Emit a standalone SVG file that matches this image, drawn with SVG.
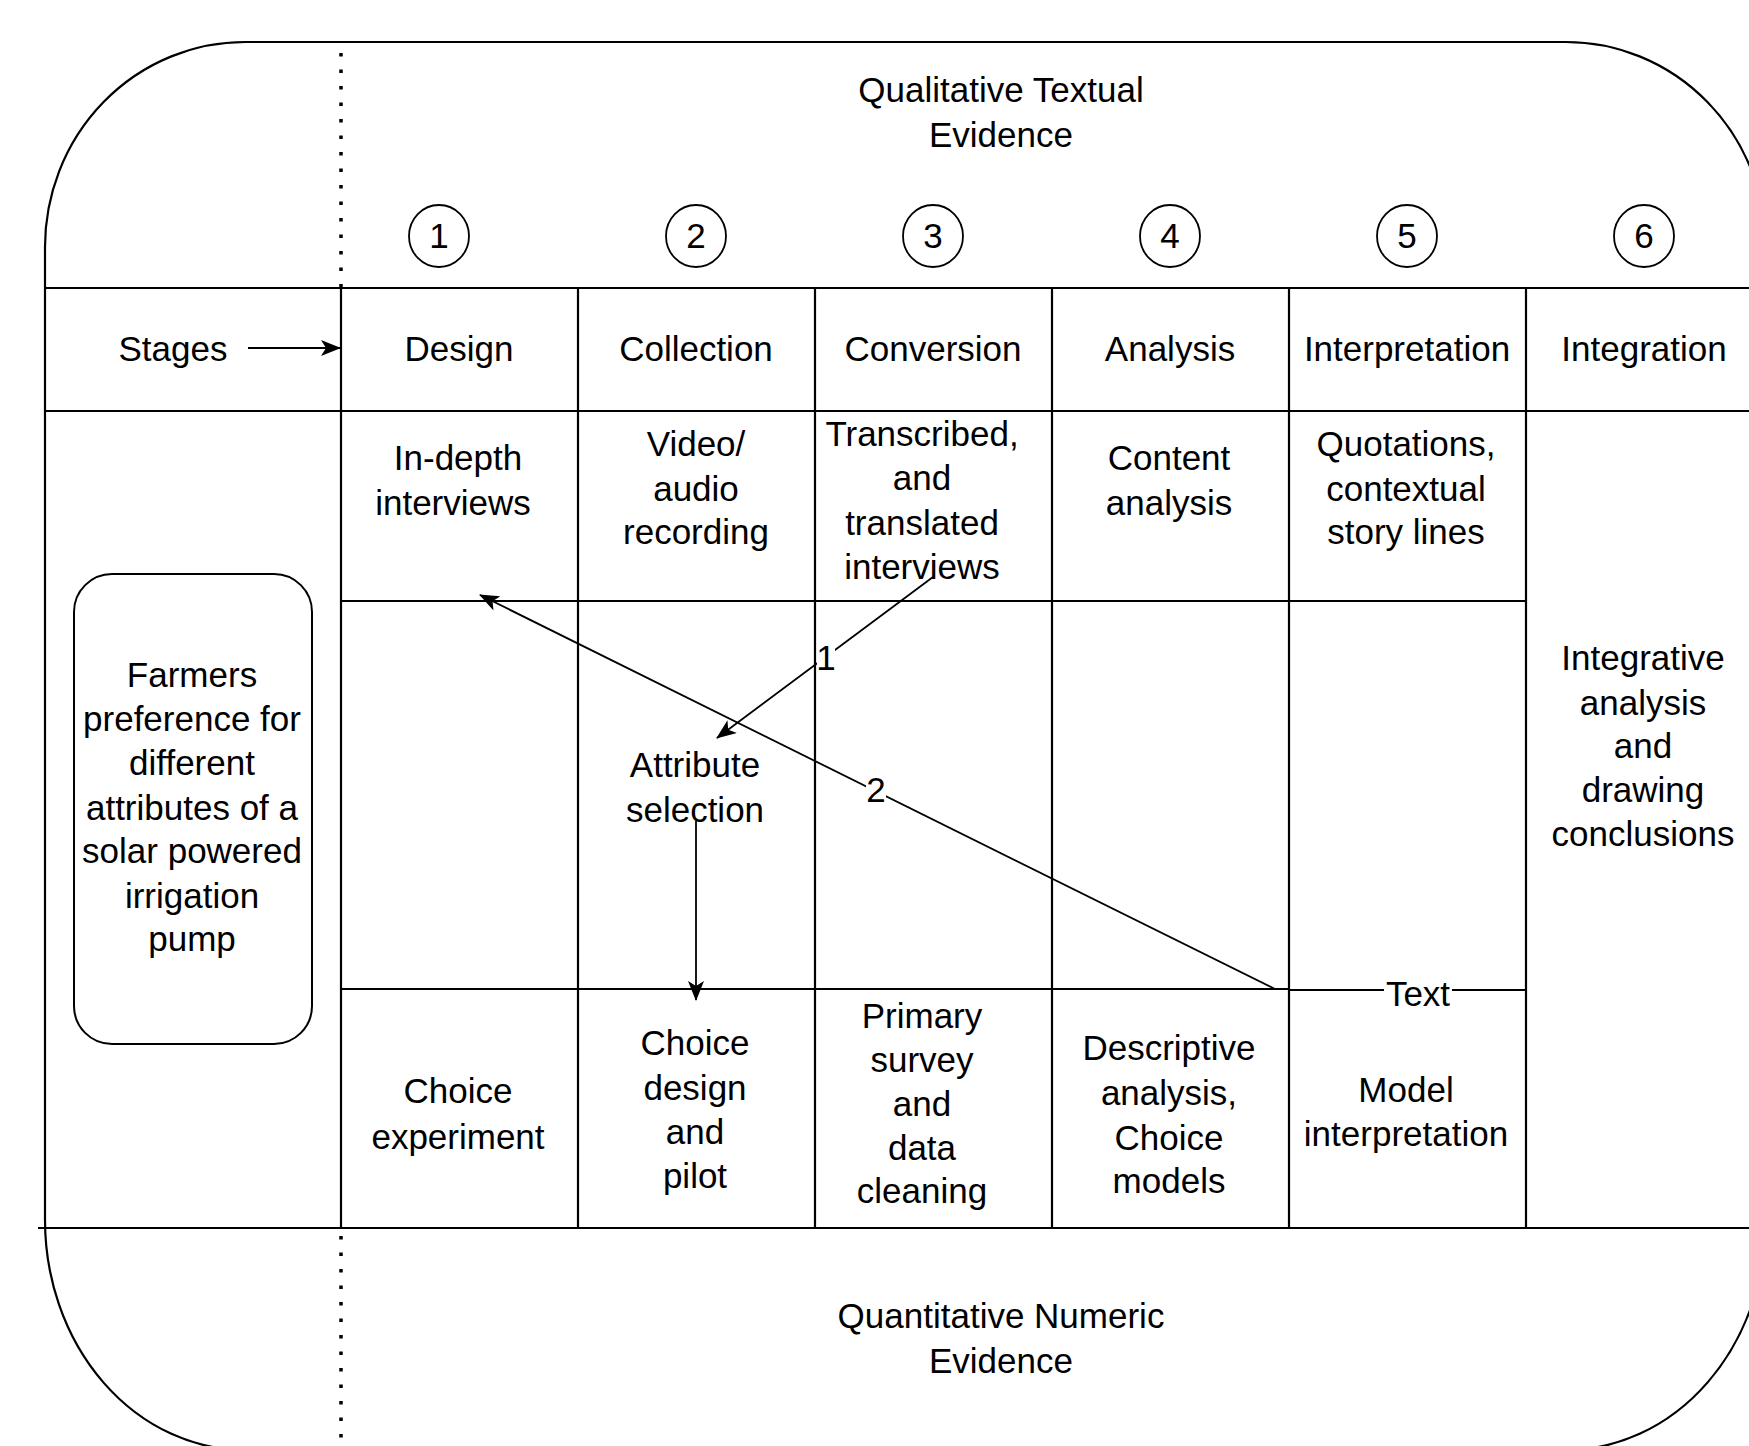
<svg xmlns="http://www.w3.org/2000/svg" width="1749" height="1446" viewBox="0 0 1749 1446">
<defs>
<marker id="arr" markerUnits="userSpaceOnUse" markerWidth="20" markerHeight="16" viewBox="0 0 20 16" refX="19" refY="8" orient="auto"><path d="M0,0 L20,8 L0,16 L5,8 Z" fill="#000"/></marker>
</defs>
<style>
text{font-family:"Liberation Sans",Arial,sans-serif;font-size:35px;fill:#000;text-anchor:middle}
.ln{stroke:#000;stroke-width:2.2;fill:none}
.conn{stroke:#000;stroke-width:1.8;fill:none}
.dot{stroke:#000;stroke-width:3.5;stroke-dasharray:3.5 13;fill:none}
.circ{stroke:#000;stroke-width:1.8;fill:#fff}
.bg{fill:#fff}
</style>
<rect width="1749" height="1446" fill="#fff"/>

<g id="frame">
<path class="ln" d="M245,42 L1566,42 A200,205 0 0 1 1766,247 L1766,1220 A200,230 0 0 1 1566,1450 L245,1450 A200,230 0 0 1 45,1220 L45,247 A200,205 0 0 1 245,42 Z"/>
<line class="dot" x1="341" y1="53" x2="341" y2="288"/>
<line class="dot" x1="341" y1="1236" x2="341" y2="1446"/>
</g>

<g id="table">
<line class="ln" x1="45" y1="288" x2="1749" y2="288"/>
<line class="ln" x1="45" y1="411" x2="1749" y2="411"/>
<line class="ln" x1="341" y1="601" x2="1526" y2="601"/>
<line class="ln" x1="341" y1="989" x2="1289" y2="989"/>
<line class="ln" x1="38" y1="1228" x2="1749" y2="1228"/>
<line class="ln" x1="341" y1="288" x2="341" y2="1228"/>
<line class="ln" x1="578" y1="288" x2="578" y2="1228"/>
<line class="ln" x1="815" y1="288" x2="815" y2="1228"/>
<line class="ln" x1="1052" y1="288" x2="1052" y2="1228"/>
<line class="ln" x1="1289" y1="288" x2="1289" y2="1228"/>
<line class="ln" x1="1526" y1="288" x2="1526" y2="1228"/>
</g>

<g id="qual-label"><text x="1001" y="102">Qualitative Textual</text><text x="1001" y="147">Evidence</text></g>
<g id="quant-label"><text x="1001" y="1328">Quantitative Numeric</text><text x="1001" y="1373">Evidence</text></g>

<g id="step1"><ellipse class="circ" cx="439" cy="236" rx="30" ry="31"/><text x="439" y="248">1</text></g>
<g id="step2"><ellipse class="circ" cx="696" cy="236" rx="30" ry="31"/><text x="696" y="248">2</text></g>
<g id="step3"><ellipse class="circ" cx="933" cy="236" rx="30" ry="31"/><text x="933" y="248">3</text></g>
<g id="step4"><ellipse class="circ" cx="1170" cy="236" rx="30" ry="31"/><text x="1170" y="248">4</text></g>
<g id="step5"><ellipse class="circ" cx="1407" cy="236" rx="30" ry="31"/><text x="1407" y="248">5</text></g>
<g id="step6"><ellipse class="circ" cx="1644" cy="236" rx="30" ry="31"/><text x="1644" y="248">6</text></g>

<g id="h-stages"><text x="173" y="361">Stages</text></g>
<g id="h-design"><text x="459" y="361">Design</text></g>
<g id="h-collection"><text x="696" y="361">Collection</text></g>
<g id="h-conversion"><text x="933" y="361">Conversion</text></g>
<g id="h-analysis"><text x="1170" y="361">Analysis</text></g>
<g id="h-interpretation"><text x="1407" y="361">Interpretation</text></g>
<g id="h-integration"><text x="1644" y="361">Integration</text></g>

<g id="q-design"><text x="458" y="470">In-depth</text><text x="453" y="515">interviews</text></g>
<g id="q-collection"><text x="696" y="456">Video/</text><text x="696" y="501">audio</text><text x="696" y="544">recording</text></g>
<g id="q-conversion"><text x="922" y="446">Transcribed,</text><text x="922" y="490">and</text><text x="922" y="535">translated</text><text x="922" y="579">interviews</text></g>
<g id="q-analysis"><text x="1169" y="470">Content</text><text x="1169" y="515">analysis</text></g>
<g id="q-interpretation"><text x="1406" y="456">Quotations,</text><text x="1406" y="501">contextual</text><text x="1406" y="544">story lines</text></g>

<g id="attribute-selection"><text x="695" y="777">Attribute</text><text x="695" y="822">selection</text></g>
<g id="integration"><text x="1643" y="670">Integrative</text><text x="1643" y="715">analysis</text><text x="1643" y="758">and</text><text x="1643" y="802">drawing</text><text x="1643" y="846">conclusions</text></g>

<g id="farmers">
<rect x="74" y="574" width="238" height="470" rx="38" ry="38" fill="#fff" stroke="#000" stroke-width="2"/>
<text x="192" y="687">Farmers</text><text x="192" y="731">preference for</text><text x="192" y="775">different</text><text x="192" y="820">attributes of a</text><text x="192" y="863">solar powered</text><text x="192" y="908">irrigation</text><text x="192" y="951">pump</text>
</g>

<g id="n-design"><text x="458" y="1103">Choice</text><text x="458" y="1149">experiment</text></g>
<g id="n-collection"><text x="695" y="1055">Choice</text><text x="695" y="1100">design</text><text x="695" y="1144">and</text><text x="695" y="1188">pilot</text></g>
<g id="n-conversion"><text x="922" y="1028">Primary</text><text x="922" y="1072">survey</text><text x="922" y="1116">and</text><text x="922" y="1160">data</text><text x="922" y="1203">cleaning</text></g>
<g id="n-analysis"><text x="1169" y="1060">Descriptive</text><text x="1169" y="1105">analysis,</text><text x="1169" y="1150">Choice</text><text x="1169" y="1193">models</text></g>
<g id="n-interpretation"><text x="1406" y="1102">Model</text><text x="1406" y="1146">interpretation</text></g>

<g id="connectors">
<line class="conn" x1="248" y1="348" x2="340" y2="348" marker-end="url(#arr)"/>
<line class="conn" x1="933" y1="577" x2="717" y2="738" marker-end="url(#arr)"/>
<rect class="bg" x="817" y="644" width="18" height="30"/>
<text x="826" y="670">1</text>
<line class="conn" x1="1275" y1="989" x2="480" y2="595" marker-end="url(#arr)"/>
<rect class="bg" x="866" y="776" width="20" height="30"/>
<text x="876" y="802">2</text>
<line class="conn" x1="696" y1="821" x2="696" y2="1000" marker-end="url(#arr)"/>
<line class="ln" x1="1289" y1="990" x2="1526" y2="990"/>
<rect class="bg" x="1384" y="978" width="68" height="30"/>
<text x="1418" y="1006">Text</text>
</g>
</svg>
